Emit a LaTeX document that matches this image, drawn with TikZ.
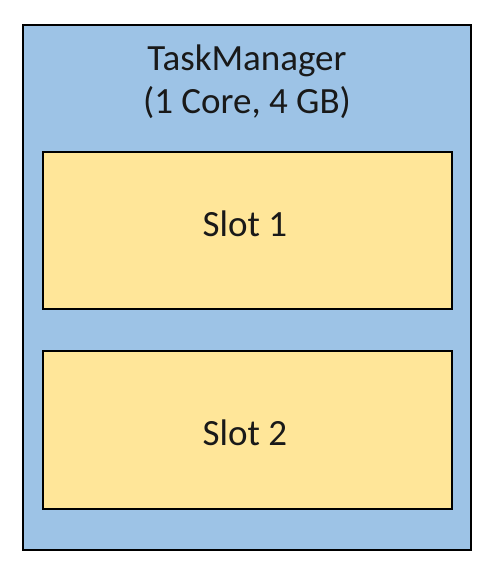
\documentclass[tikz,border=0pt]{standalone}
\usepackage{fontspec}
\setmainfont{Carlito}
\definecolor{tmblue}{HTML}{9DC3E6}
\definecolor{slotyellow}{HTML}{FFE699}
\begin{document}
\begin{tikzpicture}[x=1pt,y=-1pt,
  outerbox/.style={draw=black,line width=1.4pt,fill=tmblue},
  slotbox/.style={draw=black,line width=1.4pt,fill=slotyellow},
  lbl/.style={font=\fontsize{37}{43}\selectfont,text=black!90,align=center,inner sep=0pt}]
\useasboundingbox (0,0) rectangle (492,566);
\draw[outerbox] (23,25) rectangle (471,550);
\node[lbl] (title) at (247,82) {TaskManager\\(1 Core, 4 GB)};
\draw[slotbox] (43,152) rectangle (452,309);
\node[lbl] (s1) at (245,224) {Slot 1};
\draw[slotbox] (43,351) rectangle (452,509);
\node[lbl] (s2) at (245,433) {Slot 2};
\end{tikzpicture}
\end{document}
